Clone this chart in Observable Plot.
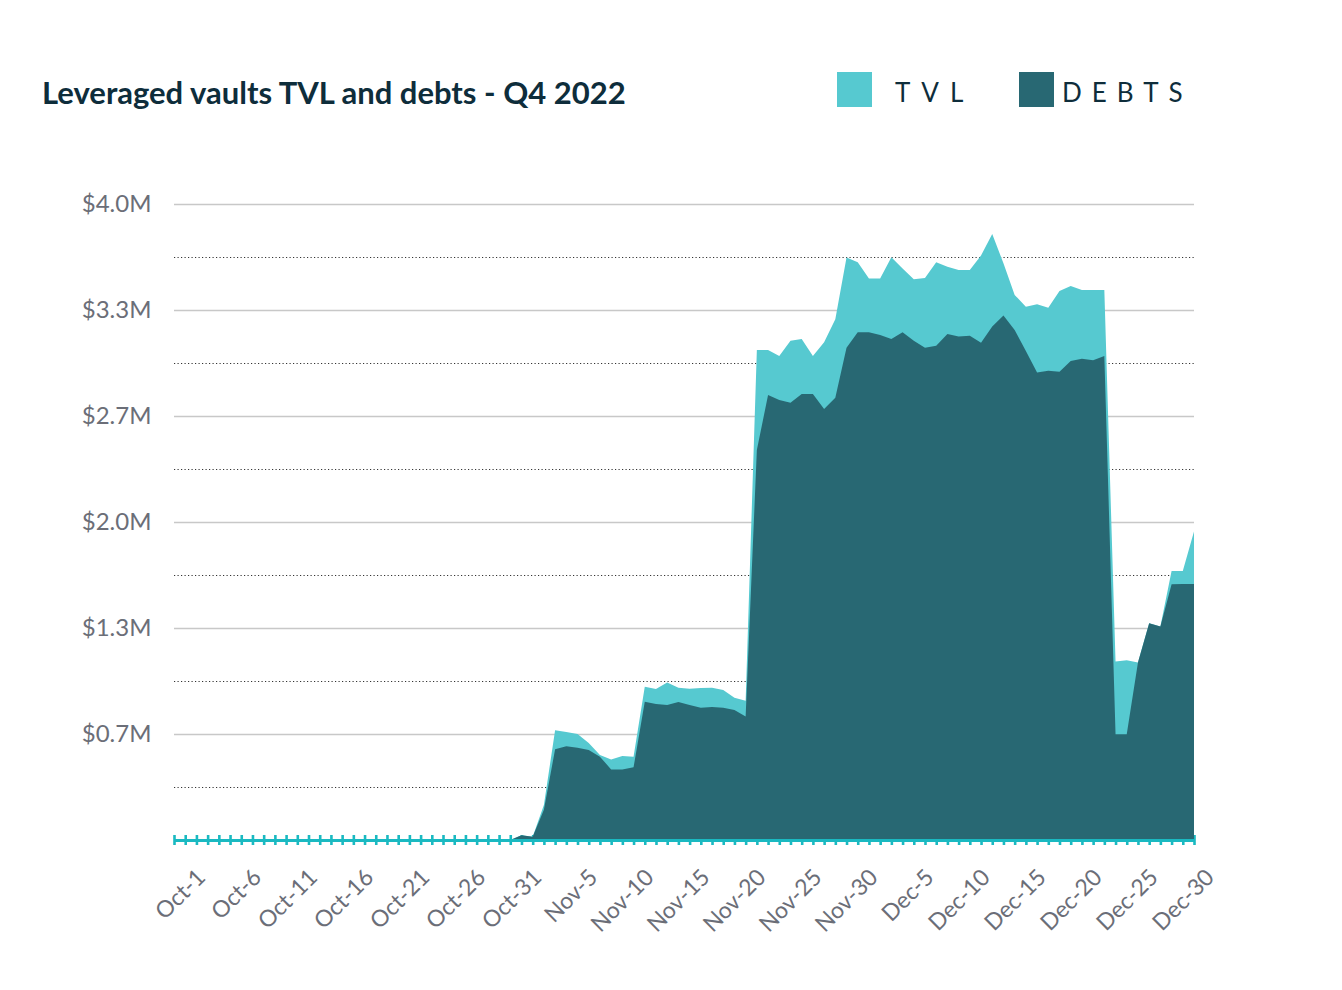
<!DOCTYPE html>
<html>
<head>
<meta charset="utf-8">
<script src="https://cdn.jsdelivr.net/npm/d3@7"></script>
<script src="https://cdn.jsdelivr.net/npm/@observablehq/plot@0.6"></script>
<style>
  html, body { margin: 0; padding: 0; background: #ffffff; }
  body { font-family: Lato, "Noto Sans", sans-serif; }
  #wrap { position: relative; width: 1342px; height: 990px; overflow: hidden; }
  #header { position: relative; width: 1342px; height: 150px; }
  #title { position: absolute; left: 42px; top: 73px; font-size: 31px; font-weight: 700; color: #0e2d3b; white-space: nowrap; line-height: 38px; }
  .sw { position: absolute; top: 72px; width: 35px; height: 35px; }
  .lt { position: absolute; top: 74px; font-size: 26px; letter-spacing: 11px; color: #0e2d3b; line-height: 36px; white-space: nowrap; }
  #chart svg { display: block; }
</style>
</head>
<body>
<div id="wrap">
  <div id="header">
    <div id="title">Leveraged vaults TVL and debts - Q4 2022</div>
    <div class="sw" style="left:837px;background:#56c9d0"></div>
    <div class="lt" style="left:895px">TVL</div>
    <div class="sw" style="left:1019px;background:#286873"></div>
    <div class="lt" style="left:1062px;letter-spacing:10px">DEBTS</div>
  </div>
  <div id="chart"></div>
</div>
<script>
// Daily categories: Oct 1 .. Dec 31, 2022
const dates = d3.utcDay.range(new Date(Date.UTC(2022, 9, 1)), new Date(Date.UTC(2023, 0, 1)));

// TVL in $M (one value per day)
const tvl = [
  0,0,0,0,0,0,0,0,0,0, 0,0,0,0,0,0,0,0,0,0, 0,0,0,0,0,0,0,0,0,0,
  0, 0.03, 0.02, 0.22, 0.69, 0.68, 0.667, 0.61, 0.535, 0.507,
  0.528, 0.524, 0.964, 0.95, 0.99, 0.958, 0.952, 0.956, 0.958, 0.943,
  0.895, 0.876, 3.082, 3.082, 3.044, 3.14, 3.151, 3.044, 3.13, 3.275,
  3.663, 3.633, 3.532, 3.532, 3.665, 3.595, 3.526, 3.535, 3.633, 3.606,
  3.585, 3.585, 3.676, 3.811, 3.627, 3.428, 3.354, 3.369, 3.348, 3.453,
  3.484, 3.459, 3.459, 3.459, 1.122, 1.13, 1.117, 1.363, 1.342, 1.692,
  1.692, 1.94
];

// Debts in $M (one value per day)
const debts = [
  0,0,0,0,0,0,0,0,0,0, 0,0,0,0,0,0,0,0,0,0, 0,0,0,0,0,0,0,0,0,0,
  0, 0.03, 0.02, 0.19, 0.57, 0.59, 0.58, 0.566, 0.524, 0.444,
  0.444, 0.457, 0.87, 0.855, 0.849, 0.868, 0.849, 0.832, 0.836, 0.832,
  0.818, 0.776, 2.453, 2.799, 2.767, 2.75, 2.805, 2.805, 2.711, 2.782,
  3.096, 3.193, 3.193, 3.176, 3.151, 3.193, 3.14, 3.096, 3.109, 3.182,
  3.166, 3.172, 3.128, 3.229, 3.298, 3.208, 3.075, 2.941, 2.952, 2.945,
  3.013, 3.027, 3.017, 3.044, 0.665, 0.665, 1.117, 1.363, 1.342, 1.608,
  1.61, 1.61
];

const xTickLabels = ["Oct-1","Oct-6","Oct-11","Oct-16","Oct-21","Oct-26","Oct-31",
  "Nov-5","Nov-10","Nov-15","Nov-20","Nov-25","Nov-30",
  "Dec-5","Dec-10","Dec-15","Dec-20","Dec-25","Dec-30"];
const xTickDates = xTickLabels.map((_, i) => dates[i * 5]);

const yTicks = [2/3, 4/3, 2, 8/3, 10/3, 4];
const yTickLabels = ["$0.7M","$1.3M","$2.0M","$2.7M","$3.3M","$4.0M"];
const yMinor = [1/3, 1, 5/3, 7/3, 3, 11/3];

const data = dates.map((d, i) => ({date: d, tvl: tvl[i], debts: debts[i]}));

const LIGHT = "#56c9d0", DARK = "#286873", TEAL = "#1ab9c1", GRAY = "#6b6e78";

const chart = Plot.plot({
  width: 1342,
  height: 840,
  marginLeft: 174,
  marginRight: 148,
  marginTop: 54,
  marginBottom: 150,
  style: {fontFamily: "Lato, 'Noto Sans', sans-serif", background: "#ffffff", overflow: "visible"},
  x: {type: "utc", domain: [dates[0], dates[dates.length - 1]]},
  y: {domain: [0, 4]},
  marks: [
    Plot.ruleY(yTicks, {stroke: "#c8c8c8", strokeWidth: 1.3}),
    Plot.ruleY(yMinor, {stroke: "#333333", strokeWidth: 1, strokeDasharray: "1.2,2.3"}),
    Plot.axisY({ticks: yTicks, tickFormat: (d, i) => yTickLabels[i], tickSize: 0, tickPadding: 23, fontSize: 24, color: GRAY, label: null}),
    Plot.axisX({ticks: dates, tickSize: 10, dy: -5, tickFormat: () => "", stroke: TEAL, strokeWidth: 2.6, label: null}),
    Plot.areaY(data, {x: "date", y: "tvl", fill: LIGHT}),
    Plot.areaY(data, {x: "date", y: "debts", fill: DARK}),
    Plot.ruleY([0], {stroke: TEAL, strokeWidth: 3}),
    Plot.text(xTickDates, {x: d => d, frameAnchor: "bottom", text: (d, i) => xTickLabels[i], rotate: -45, textAnchor: "end", lineAnchor: "middle", dx: 27, dy: 33, fontSize: 23, fill: GRAY})
  ]
});
document.getElementById("chart").appendChild(chart);
</script>
</body>
</html>
